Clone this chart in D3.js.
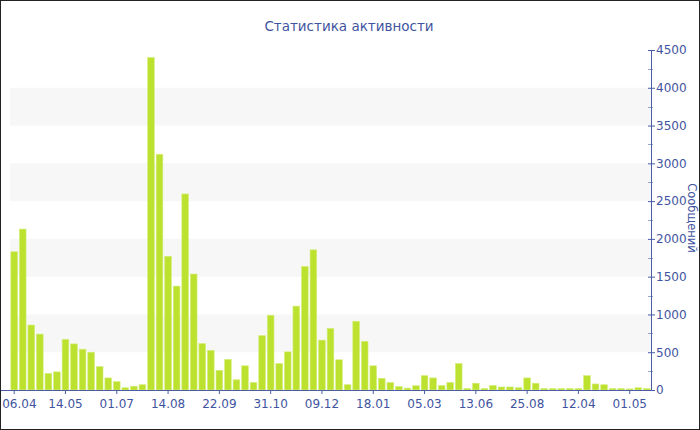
<!DOCTYPE html>
<html>
<head>
<meta charset="utf-8">
<script src="https://cdn.jsdelivr.net/npm/d3@7"></script>
<style>
  html, body { margin: 0; padding: 0; background: #fff; }
  svg { display: block; font-family: "DejaVu Sans", Verdana, sans-serif; }
</style>
</head>
<body>
<svg id="chart" width="700" height="430"></svg>
<script>
const values = [
  1830, 2130, 860, 740, 220, 240, 670, 610, 540, 500, 310, 160, 110, 30, 50, 70,
  4400, 3120, 1770, 1375, 2595, 1535, 615, 525, 260, 405, 135, 320, 100, 720,
  990, 350, 505, 1110, 1635, 1855,
  660, 815, 400, 70, 910, 645, 320, 155, 100, 45, 25, 57,
  190, 160, 60, 100, 350, 20, 90, 20, 60, 40, 40, 30, 160, 90, 20, 20, 20, 20,
  20, 190, 80, 70, 20, 20, 15, 30, 20
];
const tickLabels = ["06.04", "14.05", "01.07", "14.08", "22.09", "31.10", "09.12",
                    "18.01", "05.03", "13.06", "25.08", "12.04", "01.05"];
const yTicks = [0, 500, 1000, 1500, 2000, 2500, 3000, 3500, 4000, 4500];
const bandRanges = [[500, 1000], [1500, 2000], [2500, 3000], [3500, 4000]];
const title = "Статистика активности";
const yTitle = "Сообщений";

const W = 700, H = 430;
const mLeft = 10, mRight = 651, mTop = 50, mBottom = 390;
const axisColor = "#4a5ea8";
const textColor = "#3f54a0";

const svg = d3.select("#chart");
const cats = values.map((d, i) => i);

const x = d3.scaleBand().domain(cats).range([mLeft, mRight]).paddingInner(0.22).paddingOuter(0.1);
const y = d3.scaleLinear().domain([0, 4500]).range([mBottom, mTop]);

// background bands
svg.append("g").selectAll("rect").data(bandRanges).join("rect")
  .attr("x", mLeft).attr("width", mRight - mLeft)
  .attr("y", d => y(d[1])).attr("height", d => y(d[0]) - y(d[1]))
  .attr("fill", "#f7f7f7");

// title
svg.append("text").attr("x", 349).attr("y", 31).attr("text-anchor", "middle")
  .attr("font-size", 13.5).attr("fill", textColor).text(title);

// bars
svg.append("g").selectAll("rect").data(values).join("rect")
  .attr("x", (d, i) => x(i)).attr("width", x.bandwidth())
  .attr("y", d => y(d)).attr("height", d => y(0) - y(d))
  .attr("fill", "#bde12f").attr("stroke", "#d3ee7a").attr("stroke-width", 0.6);

// x axis
const xAxis = d3.axisBottom(x)
  .tickValues(cats.filter(i => i % 6 === 0))
  .tickFormat(i => tickLabels[i / 6])
  .tickSize(4).tickSizeOuter(0);
const gx = svg.append("g").attr("transform", `translate(0,${mBottom})`).call(xAxis);
gx.select(".domain").remove();
gx.append("line").attr("x1", 0).attr("x2", mRight).attr("y1", 0.5).attr("y2", 0.5)
  .attr("stroke", axisColor);
gx.selectAll(".tick line").attr("stroke", axisColor);
gx.selectAll(".tick text").attr("fill", textColor).attr("font-size", 12)
  .attr("font-family", "DejaVu Sans, Verdana, sans-serif").attr("dy", "0.95em");
// keep the first label inside the frame
gx.selectAll(".tick text").filter((d, i) => i === 0).attr("text-anchor", "start").attr("x", -12);

// minor y ticks
const minor = d3.range(250, 4500, 500);
svg.append("g").selectAll("line").data(minor).join("line")
  .attr("x1", mRight - 3).attr("x2", mRight + 2)
  .attr("y1", d => Math.round(y(d)) + 0.5).attr("y2", d => Math.round(y(d)) + 0.5)
  .attr("stroke", "#9aa3c8");

// y axis on right
const yAxis = d3.axisRight(y).tickValues(yTicks).tickFormat(d3.format("d")).tickSize(4).tickSizeOuter(0);
const gy = svg.append("g").attr("transform", `translate(${mRight},0)`).call(yAxis);
gy.select(".domain").attr("stroke", axisColor);
gy.selectAll(".tick line").attr("stroke", axisColor).attr("x1", -3);
gy.selectAll(".tick text").attr("fill", textColor).attr("font-size", 12)
  .attr("font-family", "DejaVu Sans, Verdana, sans-serif").attr("x", 5);

// y title
svg.append("text").attr("transform", "translate(688,218) rotate(90)")
  .attr("text-anchor", "middle").attr("font-size", 11.5).attr("fill", textColor).text(yTitle);

// frame
svg.append("rect").attr("x", 0.5).attr("y", 0.5).attr("width", W - 1).attr("height", H - 1)
  .attr("fill", "none").attr("stroke", "#222");
</script>
</body>
</html>
